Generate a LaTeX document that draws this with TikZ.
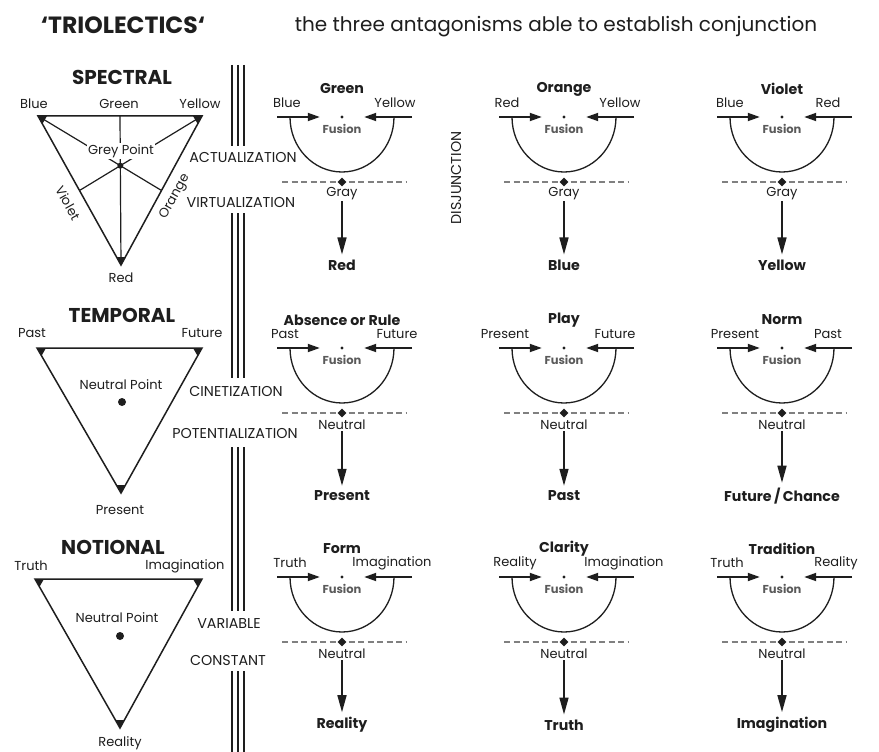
\documentclass[tikz,border=0pt]{standalone}
\usepackage{fontspec}
\setmainfont{Poppins}
\usetikzlibrary{arrows.meta, calc, shapes.geometric}
\definecolor{ink}{HTML}{1E1E1E}
\definecolor{fusegray}{HTML}{5A5A5A}
\definecolor{dashgray}{HTML}{808080}
\tikzset{
  lbl/.style={font=\fontsize{13}{15}\selectfont, text=ink, inner sep=1pt},
  boldlbl/.style={font=\fontsize{14.2}{16}\selectfont\bfseries, text=ink, inner sep=1pt},
  capslbl/.style={font=\fontsize{14.3}{16}\selectfont, text=ink, inner sep=1pt},
  headlbl/.style={font=\fontsize{20}{22}\selectfont\bfseries, text=ink, inner sep=1pt},
  fuselbl/.style={font=\fontsize{11.5}{13}\selectfont\bfseries, text=fusegray, inner sep=1pt},
  fusecore/.style={minimum width=44pt, minimum height=2pt, inner sep=0pt},
  feed/.style={line width=1.8pt, ink, -{Triangle[length=12pt,width=8pt]}},
  bowl/.style={line width=1.3pt, ink},
  neutralline/.style={line width=1.4pt, dashgray, dash pattern=on 6pt off 3.5pt},
  gem/.style={diamond, fill=ink, minimum size=9pt, inner sep=0pt},
  outarrow/.style={line width=1.6pt, ink, -{Triangle[length=17pt,width=9pt]}, shorten >=4pt},
  triside/.style={line width=1.5pt, ink, line join=miter},
  median/.style={line width=1.2pt, ink},
  pillar/.style={line width=1.5pt, ink},
}

\begin{document}
\begin{tikzpicture}[x=1pt, y=-1pt]
  \fill[white] (0,0) rectangle (879,752);
  \useasboundingbox (0,0) rectangle (879,752);

  % heading
  \node[headlbl, font=\fontsize{23.5}{25}\selectfont\bfseries] (title) at (123,25) {‘TRIOLECTICS‘};
  \node[lbl, font=\fontsize{20}{22}\selectfont] (subtitle) at (556,27) {the three antagonisms able to establish conjunction};

  % triple dividing lines
  \foreach \ya/\yb in {65/146, 213/378, 447/611, 671/752}
    \foreach \px in {232,238,244}
      \draw[pillar] (\px,\ya) -- (\px,\yb);
  \node[capslbl] (act) at (243,158) {ACTUALIZATION};
  \node[capslbl] (virt) at (241,203) {VIRTUALIZATION};
  \node[capslbl] (cin) at (236,391) {CINETIZATION};
  \node[capslbl] (pot) at (235,434) {POTENTIALIZATION};
  \node[capslbl] (var) at (229,624) {VARIABLE};
  \node[capslbl] (con) at (228,660) {CONSTANT};
  \node[capslbl, rotate=90] (dis) at (456,178) {DISJUNCTION};

  % spectral triangle
  \node[headlbl] (spec) at (122,77) {SPECTRAL};
  \coordinate (sb) at (38,116);
  \coordinate (sy) at (202,116);
  \coordinate (sr) at (121,265);
  \coordinate (sg) at ($(sb)!.5!(sy)$);
  \coordinate (sv) at ($(sb)!.5!(sr)$);
  \coordinate (so) at ($(sy)!.5!(sr)$);
  \coordinate (sc) at ($(sb)!2/3!(so)$);
  \draw[median] (sb) -- (so) (sy) -- (sv) (sg) -- (sr);
  \draw[triside] (sb) -- (sy) -- (sr) -- cycle;
  \fill[ink] (sc) circle (3pt);
  \node[lbl, fill=white, inner sep=1.5pt] (grey) at (121,151) {Grey Point};
  \node[lbl] (sblue) at (34,104) {Blue};
  \node[lbl] (sgreen) at (119,104) {Green};
  \node[lbl] (syellow) at (200,104) {Yellow};
  \node[lbl] (sred) at (121,278) {Red};
  \node[lbl, rotate=-61] (sviolet) at (68,203) {Violet};
  \node[lbl, rotate=61] (sorange) at (175,197) {Orange};

  % temporal triangle
  \node[headlbl] (temp) at (122,315) {TEMPORAL};
  \coordinate (tpa) at (37,348);
  \coordinate (tfu) at (202,348);
  \coordinate (tpr) at (121,493);
  \draw[triside] (tpa) -- (tfu) -- (tpr) -- cycle;
  \fill[ink] (122,402) circle (4pt);
  \node[lbl] (tnp) at (121,385) {Neutral Point};
  \node[lbl] (tpast) at (32,333) {Past};
  \node[lbl] (tfut) at (202,333) {Future};
  \node[lbl] (tpres) at (120,510) {Present};

  % notional triangle
  \node[headlbl] (noti) at (113,547) {NOTIONAL};
  \coordinate (ntr) at (35,579);
  \coordinate (nim) at (202,579);
  \coordinate (nre) at (120,728);
  \draw[triside] (ntr) -- (nim) -- (nre) -- cycle;
  \fill[ink] (120,636) circle (4pt);
  \node[lbl] (nnp) at (117,618) {Neutral Point};
  \node[lbl] (ntruth) at (31,566) {Truth};
  \node[lbl] (nimag) at (185,566) {Imagination};
  \node[lbl] (nreal) at (120,743) {Reality};

  % corner marks
  \foreach \v/\a/\b in {sb/sy/sr, sy/sr/sb, sr/sb/sy, tpa/tfu/tpr, tfu/tpr/tpa, tpr/tpa/tfu, ntr/nim/nre, nim/nre/ntr, nre/ntr/nim}
    \fill[ink] ($(\v)!9pt!(\a)$) -- (\v) -- ($(\v)!9pt!(\b)$) -- cycle;

  % fusion diagrams
  \foreach \cx/\ly/\ttl/\inl/\inr/\dl/\dr/\mdl/\res [count=\i] in {
      342/117/Green/Blue/Yellow/-55/53/Gray/Red,
      564/117/Orange/Red/Yellow/-57/56/Gray/Blue,
      782/117/Violet/Blue/Red/-52/46/Gray/Yellow,
      342/348/Absence or Rule/Past/Future/-57/55/Neutral/Present,
      564/348/Play/Present/Future/-59/51/Neutral/Past,
      782/348/Norm/Present/Past/-47/46/Neutral/{Future\,/\,Chance},
      342/577/Form/Truth/Imagination/-52/50/Neutral/Reality,
      564/577/Clarity/Reality/Imagination/-49/60/Neutral/Truth,
      782/577/Tradition/Truth/Reality/-55/54/Neutral/Imagination}{
    \begin{scope}[shift={(\cx,\ly)}]
      \node[fusecore] (f\i) at (0,0) {};
      \coordinate (l\i) at (-65,0);
      \coordinate (r\i) at (70,0);
      \coordinate (dl\i) at (-60,65);
      \coordinate (dr\i) at (65,65);
      \draw[bowl] (-52,0) arc[start angle=180, end angle=360, x radius=52pt, y radius=55pt];
      \draw[feed] (l\i) -- (f\i.west);
      \draw[feed] (r\i) -- (f\i.east);
      \fill[ink] (f\i) circle (1.6pt);
      \node[fuselbl] (fu\i) at (0,12) {Fusion};
      \node[boldlbl] (t\i) at (0,-28) {\ttl};
      \node[lbl] (a\i) at (\dl,-14) {\inl};
      \node[lbl] (b\i) at (\dr,-14) {\inr};
      \draw[neutralline] (dl\i) -- (dr\i);
      \node[gem] (g\i) at (0,65) {};
      \node[lbl] (m\i) at (0,77) {\mdl};
      \node[boldlbl] (o\i) at (0,148) {\res};
      \draw[outarrow] (m\i.south) -- (o\i.north);
    \end{scope}
  }
\end{tikzpicture}
\end{document}
